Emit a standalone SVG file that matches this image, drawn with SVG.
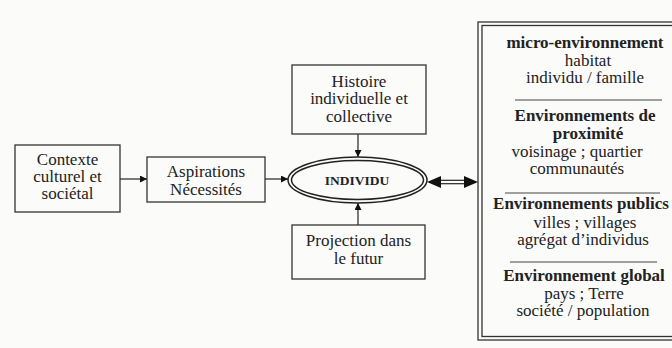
<svg xmlns="http://www.w3.org/2000/svg" width="672" height="348" viewBox="0 0 672 348" font-family="'Liberation Serif', 'Times New Roman', 'DejaVu Serif', serif">
<defs>
<style>
text{font-family:'Liberation Serif','Times New Roman','DejaVu Serif',serif;font-size:17px;fill:#222;text-anchor:middle}
.b{font-weight:bold}
.box{fill:none;stroke:#333;stroke-width:1.3}
.ln{stroke:#333;stroke-width:1.3;fill:none}
.div{stroke:#444;stroke-width:1}
</style>
<marker id="ah" viewBox="0 0 10 10" refX="10" refY="5" markerWidth="9" markerHeight="7" markerUnits="userSpaceOnUse" orient="auto"><path d="M0,0 L10,5 L0,10 z" fill="#111"/></marker>
</defs>
<rect width="672" height="348" fill="#fbfbfa"/>

<g id="contexte">
<rect class="box" x="15" y="145" width="105" height="67"/>
<text x="67.5" y="165">Contexte</text>
<text x="67.5" y="182">culturel et</text>
<text x="67.5" y="199">sociétal</text>
</g>

<g id="aspirations">
<rect class="box" x="147" y="157" width="118" height="45"/>
<text x="206" y="177">Aspirations</text>
<text x="206" y="195">Nécessités</text>
</g>

<g id="histoire">
<rect class="box" x="292" y="65" width="134" height="69"/>
<text x="359" y="87">Histoire</text>
<text x="359" y="104">individuelle et</text>
<text x="359" y="122">collective</text>
</g>

<g id="projection">
<rect class="box" x="292" y="225" width="133" height="54"/>
<text x="358.5" y="246">Projection dans</text>
<text x="358.5" y="264">le futur</text>
</g>

<g id="individu">
<ellipse cx="357.5" cy="180" rx="69.5" ry="23" fill="none" stroke="#222" stroke-width="1.5"/>
<ellipse cx="357.5" cy="180" rx="66" ry="19.5" fill="none" stroke="#222" stroke-width="1.5"/>
<text class="b" x="357" y="185" style="font-size:13.5px">INDIVIDU</text>
</g>

<g id="environnements">
<rect x="478" y="22" width="210" height="318" fill="none" stroke="#333" stroke-width="1.3"/>
<rect x="482" y="25.5" width="210" height="311" fill="none" stroke="#333" stroke-width="1.3"/>
<text class="b" x="585" y="48">micro-environnement</text>
<text x="588" y="66">habitat</text>
<text x="585" y="83">individu / famille</text>
<line class="div" x1="515" y1="100" x2="662" y2="100"/>
<text class="b" x="585" y="121">Environnements de</text>
<text class="b" x="588" y="139">proximité</text>
<text x="577" y="157">voisinage ; quartier</text>
<text x="577" y="174">communautés</text>
<line class="div" x1="505" y1="193" x2="660" y2="193"/>
<text class="b" x="581" y="209">Environnements publics</text>
<text x="585" y="228">villes ; villages</text>
<text x="583" y="245">agrégat d’individus</text>
<line class="div" x1="510" y1="262" x2="657" y2="262"/>
<text class="b" x="584" y="281">Environnement global</text>
<text x="584" y="299">pays ; Terre</text>
<text x="583" y="316">société / population</text>
</g>

<g id="connectors">
<line class="ln" x1="120" y1="179" x2="147" y2="179" marker-end="url(#ah)"/>
<line class="ln" x1="265" y1="179" x2="288" y2="179" marker-end="url(#ah)"/>
<line class="ln" x1="358" y1="134" x2="358" y2="157" marker-end="url(#ah)"/>
<line class="ln" x1="358" y1="225" x2="358" y2="203" marker-end="url(#ah)"/>
<line x1="438" y1="180.3" x2="467" y2="180.3" stroke="#222" stroke-width="1.2"/>
<line x1="438" y1="183.7" x2="467" y2="183.7" stroke="#222" stroke-width="1.2"/>
<path d="M427,182 L441,176 L441,188 z" fill="#111"/>
<path d="M478,182 L464,176 L464,188 z" fill="#111"/>
</g>
</svg>
